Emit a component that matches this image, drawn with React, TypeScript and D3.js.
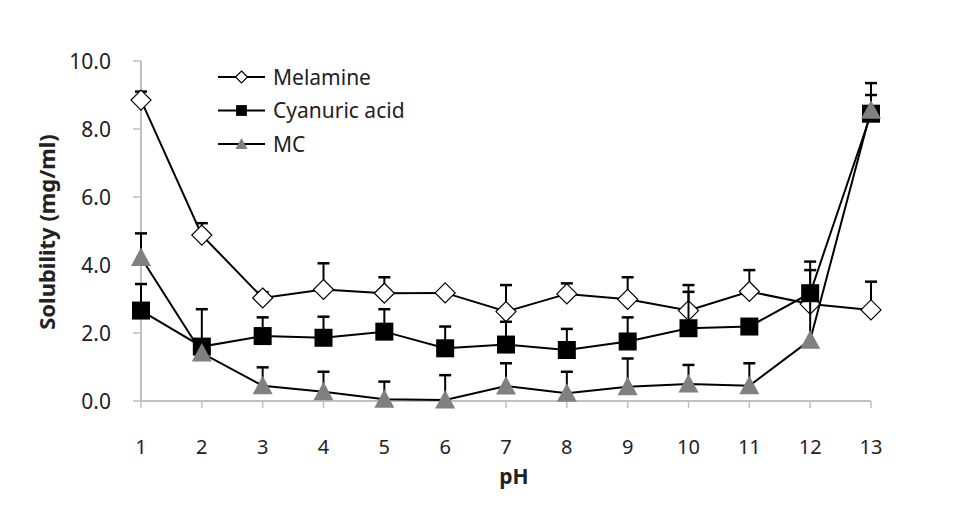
import React from "react";
import * as d3 from "d3";

const phValues = [1, 2, 3, 4, 5, 6, 7, 8, 9, 10, 11, 12, 13];
const yTicks = [0, 2, 4, 6, 8, 10];

const melamine = [8.85, 4.88, 3.03, 3.28, 3.17, 3.18, 2.63, 3.15, 2.99, 2.66, 3.22, 2.85, 2.68];
const melamineErr = [0.25, 0.35, 0.17, 0.77, 0.47, 0.05, 0.78, 0.31, 0.65, 0.75, 0.63, 0.2, 0.83];

const cyanuric = [2.66, 1.6, 1.91, 1.86, 2.04, 1.55, 1.66, 1.5, 1.75, 2.14, 2.19, 3.17, 8.45];
const cyanuricErr = [0.78, 1.1, 0.55, 0.62, 0.66, 0.64, 0.67, 0.62, 0.71, 1.07, 0.1, 0.68, 0.55];

const mc = [4.22, 1.41, 0.45, 0.27, 0.05, 0.03, 0.44, 0.23, 0.42, 0.5, 0.45, 1.79, 8.55];
const mcErr = [0.71, 0.3, 0.54, 0.59, 0.52, 0.73, 0.67, 0.63, 0.83, 0.56, 0.66, 2.31, 0.8];

const seriesNames = ["Melamine", "Cyanuric acid", "MC"];

const W = 955;
const H = 507;

const x = d3.scaleLinear().domain([1, 13]).range([141, 871]);
const y = d3.scaleLinear().domain([0, 10]).range([401, 61]);

type Kind = "diamond" | "square" | "triangle";

function Marker({ kind, cx, cy, s }: { kind: Kind; cx: number; cy: number; s: number }) {
  if (kind === "diamond") {
    const h = s / 2;
    return (
      <path
        d={`M${cx},${cy - h}L${cx + h},${cy}L${cx},${cy + h}L${cx - h},${cy}Z`}
        fill="#fff"
        stroke="#000"
        strokeWidth={1.2}
      />
    );
  }
  if (kind === "square") {
    const h = s * 0.45;
    return <rect x={cx - h} y={cy - h} width={2 * h} height={2 * h} fill="#000" />;
  }
  const h = s / 2;
  return (
    <path
      d={`M${cx},${cy - h}L${cx + h},${cy + h * 0.85}L${cx - h},${cy + h * 0.85}Z`}
      fill="#808080"
    />
  );
}

const series = [
  { name: seriesNames[0], vals: melamine, err: melamineErr, kind: "diamond" as Kind },
  { name: seriesNames[1], vals: cyanuric, err: cyanuricErr, kind: "square" as Kind },
  { name: seriesNames[2], vals: mc, err: mcErr, kind: "triangle" as Kind },
];

export default function App() {
  const line = d3
    .line<number>()
    .x((_, i) => x(phValues[i]))
    .y((d) => y(d));
  const font = "'Noto Sans', 'DejaVu Sans', sans-serif";
  return (
    <svg
      width={W}
      height={H}
      style={{ position: "absolute", left: 0, top: 0, background: "#fff" }}
      fontFamily={font}
    >
      <rect width={W} height={H} fill="#fff" />
      {/* axes */}
      <line x1={x(1)} x2={x(1)} y1={y(10)} y2={y(0)} stroke="#c0c0c0" strokeWidth={2} />
      <line x1={x(1)} x2={x(13)} y1={y(0)} y2={y(0)} stroke="#c0c0c0" strokeWidth={2} />
      {yTicks.map((t) => (
        <g key={t}>
          <line x1={x(1) - 8} x2={x(1)} y1={y(t)} y2={y(t)} stroke="#c0c0c0" strokeWidth={1.5} />
          <text x={111} y={y(t)} dy="0.36em" textAnchor="end" fontSize={21} fill="#222">
            {t.toFixed(1)}
          </text>
        </g>
      ))}
      {phValues.map((p) => (
        <g key={p}>
          <line x1={x(p)} x2={x(p)} y1={y(0)} y2={y(0) + 7} stroke="#c0c0c0" strokeWidth={1.5} />
          <text x={x(p)} y={454} textAnchor="middle" fontSize={20} fill="#222">
            {p}
          </text>
        </g>
      ))}
      <text x={514} y={484} textAnchor="middle" fontSize={21} fontWeight="bold" fill="#222">
        pH
      </text>
      <text
        transform={`translate(55,232) rotate(-90)`}
        textAnchor="middle"
        fontSize={22}
        fontWeight="bold"
        fill="#222"
      >
        Solubility (mg/ml)
      </text>
      {/* series */}
      {series.map((s) => (
        <g key={s.name}>
          <path d={line(s.vals) || ""} fill="none" stroke="#000" strokeWidth={2} />
          {s.vals.map((v, i) => (
            <g key={i}>
              <line
                x1={x(phValues[i])}
                x2={x(phValues[i])}
                y1={y(v)}
                y2={y(v + s.err[i])}
                stroke="#000"
                strokeWidth={2}
              />
              <line
                x1={x(phValues[i]) - 6}
                x2={x(phValues[i]) + 6}
                y1={y(v + s.err[i])}
                y2={y(v + s.err[i])}
                stroke="#000"
                strokeWidth={2.5}
              />
            </g>
          ))}
          {s.vals.map((v, i) => (
            <Marker key={"m" + i} kind={s.kind} cx={x(phValues[i])} cy={y(v)} s={20} />
          ))}
        </g>
      ))}
      {/* legend */}
      {series.map((s, i) => {
        const ly = 77 + i * 33.5;
        return (
          <g key={"l" + s.name}>
            <line x1={218} x2={265} y1={ly} y2={ly} stroke="#000" strokeWidth={2} />
            <Marker kind={s.kind} cx={241.5} cy={ly} s={12} />
            <text x={273} y={ly} dy="0.36em" fontSize={21} fill="#222">
              {s.name}
            </text>
          </g>
        );
      })}
    </svg>
  );
}
